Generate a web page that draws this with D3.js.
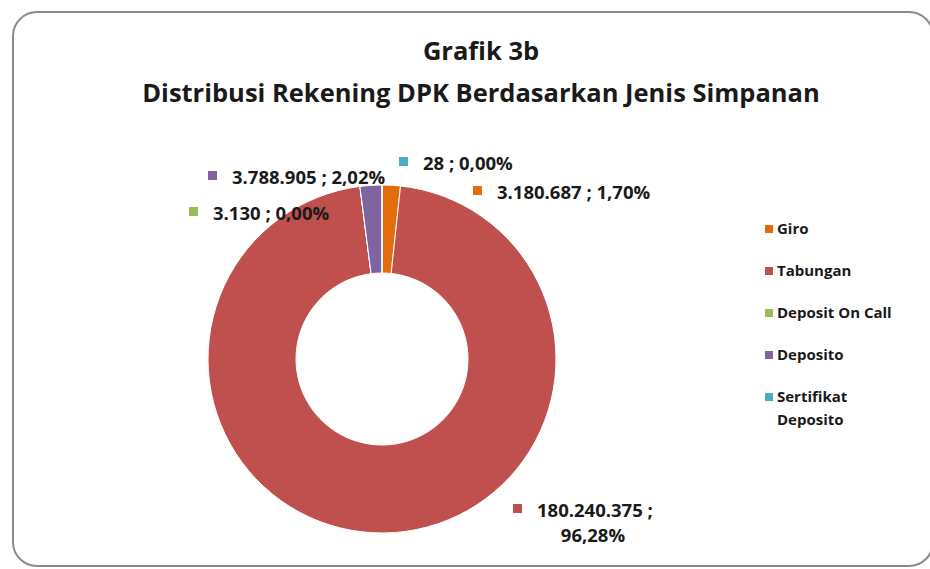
<!DOCTYPE html>
<html>
<head>
<meta charset="utf-8">
<script src="https://cdn.jsdelivr.net/npm/d3@7"></script>
<style>
    body { margin: 0; background: #fff; }
    svg text { font-family: "Open Sans", sans-serif; font-weight: bold; fill: #1a1a1a; }
</style>
</head>
<body>
<div id="chart"></div>
<script>
// data
const categories = ["Giro", "Tabungan", "Deposit On Call", "Deposito", "Sertifikat Deposito"];
const values = [3180687, 180240375, 3130, 3788905, 28];
const valueLabels = ["3.180.687", "180.240.375", "3.130", "3.788.905", "28"];
const colors = ["#E46C0A", "#C0504D", "#9BBB59", "#8064A2", "#4BACC6"];
const titleLines = ["Grafik 3b", "Distribusi Rekening DPK Berdasarkan Jenis Simpanan"];

{
    let width = 930, height = 569;
    let cx = 382, cy = 359, outerR = 174, innerR = 86;

    let svg = d3.select("#chart")
        .append("svg")
        .attr("width", width)
        .attr("height", height);

    // frame
    svg.append("rect")
        .attr("x", 13).attr("y", 12)
        .attr("width", 920).attr("height", 554)
        .attr("rx", 24).attr("ry", 24)
        .attr("fill", "#fff")
        .attr("stroke", "#8c8c8c")
        .attr("stroke-width", 2);

    // title
    svg.append("g").selectAll("text")
        .data(titleLines)
        .join("text")
        .attr("x", 481)
        .attr("y", (d, i) => 60 + i * 42)
        .attr("text-anchor", "middle")
        .style("font-size", "25.5px")
        .text(d => d);

    let total = d3.sum(values);
    let pct = v => d3.format(".2f")(v / total * 100).replace(".", ",") + "%";

    let pie = d3.pie().sort(null).value(d => d.value);
    let data = categories.map((c, i) => ({ name: c, value: values[i], label: valueLabels[i], color: colors[i] }));
    let arcs = pie(data);

    let arc = d3.arc().innerRadius(innerR).outerRadius(outerR);

    let g = svg.append("g").attr("transform", `translate(${cx}, ${cy})`);

    g.selectAll("path")
        .data(arcs)
        .join("path")
        .attr("d", arc)
        .attr("fill", d => d.data.color)
        .attr("stroke", "#fff")
        .attr("stroke-width", 1);

    // data labels (placed by hand, like the dragged labels of the original)
    let labelPos = {
        "Giro": [473, 199],
        "Tabungan": [513, 517],
        "Deposit On Call": [189, 220],
        "Deposito": [208, 184],
        "Sertifikat Deposito": [399, 170]
    };

    let lbl = svg.append("g").selectAll("g")
        .data(arcs)
        .join("g")
        .attr("transform", d => `translate(${labelPos[d.data.name][0]}, ${labelPos[d.data.name][1]})`);

    lbl.append("rect")
        .attr("x", 0).attr("y", -13)
        .attr("width", 9).attr("height", 9)
        .attr("fill", d => d.data.color);

    lbl.each(function(d) {
        let t = d3.select(this).append("text")
            .attr("x", 24)
            .style("font-size", "18.5px");
        if (d.data.name == "Tabungan") {
            t.append("tspan").attr("x", 24).text(d.data.label + " ;");
            t.append("tspan").attr("x", 80).attr("dy", 25)
                .attr("text-anchor", "middle")
                .text(pct(d.data.value));
        } else {
            t.text(d.data.label + " ; " + pct(d.data.value));
        }
    });

    // legend
    let legend = svg.append("g").selectAll("g")
        .data(categories)
        .join("g")
        .attr("transform", (d, i) => `translate(765, ${229 + i * 42})`);

    legend.append("rect")
        .attr("x", 0).attr("y", -4)
        .attr("width", 8).attr("height", 8)
        .attr("fill", (d, i) => colors[i]);

    legend.append("text")
        .attr("x", 12)
        .attr("y", 5)
        .style("font-size", "15px")
        .each(function(d) {
            let words = d == "Sertifikat Deposito" ? ["Sertifikat", "Deposito"] : [d];
            d3.select(this).selectAll("tspan")
                .data(words)
                .join("tspan")
                .attr("x", 12)
                .attr("dy", (w, i) => i ? 23 : 0)
                .text(w => w);
        });
}
</script>
</body>
</html>
